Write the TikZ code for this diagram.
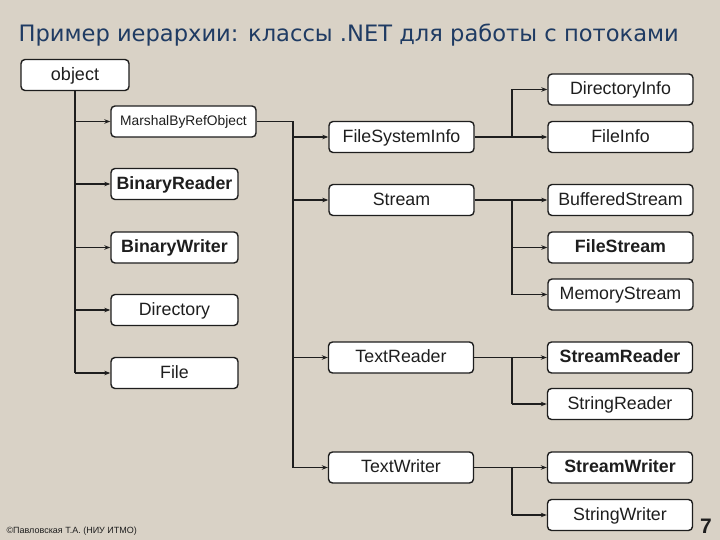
\documentclass[tikz,border=0pt]{standalone}
\usepackage{fontspec}
\setmainfont{Liberation Sans}
\newfontfamily\titlefont{DejaVu Sans}
\usetikzlibrary{arrows.meta}
\definecolor{bg}{HTML}{D9D2C6}
\definecolor{titleblue}{HTML}{1F3B63}
\definecolor{ink}{HTML}{1E1E1E}
\tikzset{
  cls/.style={draw=ink, line width=1.4pt, fill=white, rounded corners=4pt,
    minimum width=145pt, minimum height=31pt, inner sep=0pt,
    text height=13.2pt, text depth=2.6pt,
    font=\fontsize{17.8}{18}\selectfont, text=ink},
  clsb/.style={cls, font=\fontsize{17.8}{18}\selectfont\bfseries},
  link/.style={draw=ink, line width=1.4pt, -{Stealth[length=6pt,width=4.5pt]}},
  trunk/.style={draw=ink, line width=1.4pt}
}
\begin{document}
\begin{tikzpicture}[x=1pt,y=-1pt]
\useasboundingbox[fill=bg] (0,0) rectangle (720,540);
\node[anchor=base west, text=titleblue, font=\titlefont\fontsize{22.6}{24}\selectfont] (title) at (15,42) {Пример иерархии: классы .NET для работы с потоками};

% left column
\node[cls, minimum width=108pt, font=\fontsize{18}{19}\selectfont] (object) at (75,75) {object};
\node[cls, font=\fontsize{13.8}{14}\selectfont, text height=10.4pt, text depth=2pt] (mbr) at (183.5,121.5) {MarshalByRefObject};
\node[clsb, minimum width=127pt] (breader) at (174.5,184) {BinaryReader};
\node[clsb, minimum width=127pt] (bwriter) at (174.5,247.5) {BinaryWriter};
\node[cls, minimum width=127pt] (directory) at (174.5,310) {Directory};
\node[cls, minimum width=127pt] (file) at (174.5,373) {File};

% middle column
\node[cls] (fsi) at (401.5,137) {FileSystemInfo};
\node[cls] (stream) at (401.5,200) {Stream};
\node[cls] (treader) at (401,357.5) {TextReader};
\node[cls] (twriter) at (401,467.5) {TextWriter};

% right column
\node[cls] (dinfo) at (620.5,89.5) {DirectoryInfo};
\node[cls] (finfo) at (620.5,137) {FileInfo};
\node[cls] (bstream) at (620.5,200) {BufferedStream};
\node[clsb] (fstream) at (620.5,247.5) {FileStream};
\node[cls] (mstream) at (620.5,294.5) {MemoryStream};
\node[clsb] (sreader) at (620,357.5) {StreamReader};
\node[cls] (stringreader) at (620,404) {StringReader};
\node[clsb] (swriter) at (620,467.5) {StreamWriter};
\node[cls] (stringwriter) at (620,515) {StringWriter};

% coordinates of trunks
\coordinate (t2) at (293,121.5);
\coordinate (t3) at (512,0);

% object trunk
\draw[trunk] (object.south) -- (object.south |- file.west);
\foreach \n in {mbr,breader,bwriter,directory,file}
  \draw[link] (object.south |- \n.west) -- (\n.west);

% MarshalByRefObject trunk
\draw[trunk] (mbr.east) -- (t2) -- (t2 |- twriter.west);
\foreach \n in {fsi,stream,treader,twriter}
  \draw[link] (t2 |- \n.west) -- (\n.west);

% FileSystemInfo
\draw[trunk] (fsi.east) -- (t3 |- fsi.east) -- (t3 |- dinfo.west);
\foreach \n in {dinfo,finfo}
  \draw[link] (t3 |- \n.west) -- (\n.west);

% Stream
\draw[trunk] (stream.east) -- (t3 |- stream.east) -- (t3 |- mstream.west);
\foreach \n in {bstream,fstream,mstream}
  \draw[link] (t3 |- \n.west) -- (\n.west);

% TextReader
\draw[trunk] (treader.east) -- (t3 |- treader.east) -- (t3 |- stringreader.west);
\foreach \n in {sreader,stringreader}
  \draw[link] (t3 |- \n.west) -- (\n.west);

% TextWriter
\draw[trunk] (twriter.east) -- (t3 |- twriter.east) -- (t3 |- stringwriter.west);
\foreach \n in {swriter,stringwriter}
  \draw[link] (t3 |- \n.west) -- (\n.west);

% footer
\node[anchor=west, text=ink, font=\fontsize{9}{10}\selectfont] (footer) at (3,531) {©Павловская Т.А. (НИУ ИТМО)};
\node[text=ink, font=\fontsize{21}{22}\selectfont\bfseries] (page) at (706,526) {7};
\end{tikzpicture}
\end{document}
